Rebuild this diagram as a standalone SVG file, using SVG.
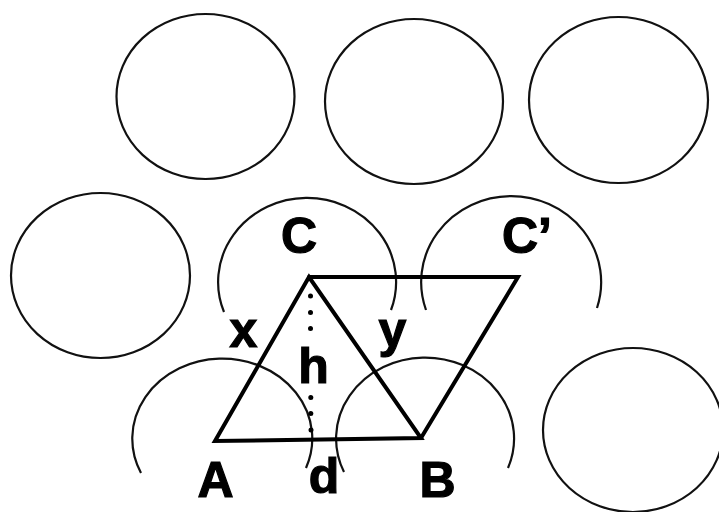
<svg xmlns="http://www.w3.org/2000/svg" width="719" height="512" viewBox="0 0 719 512">
<style>
.ring{fill:none;stroke:#111;stroke-width:2.2}
.edge{fill:none;stroke:#000;stroke-width:4;stroke-linejoin:miter;stroke-linecap:round}
.lbl{font-family:"Liberation Sans",Arial,sans-serif;font-weight:bold;font-size:50px;fill:#000;stroke:#000;stroke-width:1.2;text-anchor:middle}
.dot{fill:#000}
</style>
<rect width="719" height="512" fill="#fff"/>
<g id="atom-top1"><ellipse class="ring" cx="205.5" cy="96.5" rx="89" ry="82.5"/></g>
<g id="atom-top2"><ellipse class="ring" cx="414" cy="101.5" rx="89" ry="82.5"/></g>
<g id="atom-top3"><ellipse class="ring" cx="618.5" cy="100" rx="89.5" ry="83"/></g>
<g id="atom-left"><ellipse class="ring" cx="100.5" cy="275.5" rx="89.5" ry="82.5"/></g>
<g id="atom-right"><ellipse class="ring" cx="633" cy="430" rx="90" ry="82"/></g>
<g id="atom-C"><path class="ring" d="M224,312 A89,84 0 1 1 391,310"/><text class="lbl" x="299" y="253">C</text></g>
<g id="atom-Cp"><path class="ring" d="M426,310 A90,86 0 1 1 597,308"/><text class="lbl" x="502" y="253" style="text-anchor:start">C’</text></g>
<g id="atom-A"><path class="ring" d="M141,473 A90,80 0 1 1 306,468"/><text class="lbl" x="215.5" y="497">A</text></g>
<g id="atom-B"><path class="ring" d="M344,472 A89,81 0 1 1 508,468"/><text class="lbl" x="437.5" y="497">B</text></g>
<g id="connectors">
<path class="edge" d="M215,441 L309,277 L421,438 Z"/>
<path class="edge" d="M309,277 L518,277 L421,438"/>
<circle class="dot" cx="310.5" cy="296" r="2.5"/>
<circle class="dot" cx="310.5" cy="312.5" r="2.5"/>
<circle class="dot" cx="310.5" cy="328.5" r="2.5"/>
<circle class="dot" cx="310.8" cy="397.5" r="2.5"/>
<circle class="dot" cx="310.8" cy="413.5" r="2.5"/>
<circle class="dot" cx="311" cy="430" r="2.5"/>
</g>
<g id="labels">
<text class="lbl" x="243.5" y="347">x</text>
<text class="lbl" x="392.5" y="347">y</text>
<text class="lbl" x="313.5" y="383">h</text>
<text class="lbl" x="324" y="493">d</text>
</g>
</svg>
